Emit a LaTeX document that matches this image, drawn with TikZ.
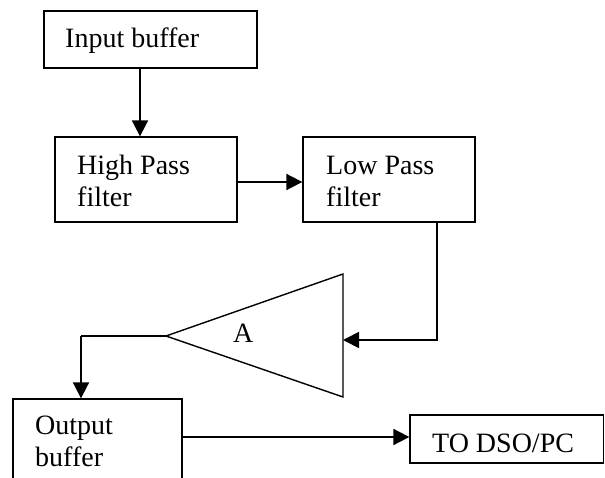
\documentclass[tikz,border=0pt]{standalone}
\usepackage{fontspec}
\setmainfont{Liberation Serif}
\usetikzlibrary{arrows.meta,calc}
\begin{document}
\begin{tikzpicture}[x=1pt,y=-1pt,
  box/.style={draw,line width=1.3pt,rectangle,inner sep=0pt},
  lbl/.style={anchor=base west,inner sep=0pt,font=\fontsize{28}{32}\selectfont,align=left},
  conn/.style={line width=1.8pt,-{Triangle[length=16pt,width=16pt]}},
  plain/.style={line width=1.4pt}]
\useasboundingbox (0,0) rectangle (605,478);
\clip (0,0) rectangle (605,478);
% boxes
\node[box,minimum width=213pt,minimum height=57pt] (in) at (150.5,39.5) {};
\node[box,minimum width=182pt,minimum height=85pt] (hp) at (146,179.5) {};
\node[box,minimum width=172pt,minimum height=85pt] (lp) at (389,179.5) {};
\node[box,minimum width=169pt,minimum height=100pt] (out) at (97.5,449) {};
\node[box,minimum width=193.5pt,minimum height=48pt] (dso) at (506.75,439) {};
% texts (base anchor = last line's baseline)
\node[lbl] (tin) at (65,48) {Input buffer};
\node[lbl] (thp) at (77,207) {High Pass\\filter};
\node[lbl] (tlp) at (326,207) {Low Pass\\filter};
\node[lbl] (tout) at (35,466) {Output\\buffer};
\node[lbl] (tdso) at (432,452) {TO DSO/PC};
% amplifier
\coordinate (apex) at (166,336);
\coordinate (atop) at (343,274);
\coordinate (abot) at (343,397);
\draw[plain,line join=miter] (apex) -- (atop) -- (abot) -- cycle;
\node[lbl] (ta) at (233,342) {A};
% connectors
\draw[conn] ([xshift=-10.5pt]in.south) -- ([xshift=-6pt]hp.north);
\coordinate (hpout) at ([yshift=-2.5pt,xshift=-2pt]hp.east);
\draw[conn] (hpout) -- (hpout -| lp.west);
\coordinate (lpout) at ([xshift=48pt]lp.south);
\coordinate (ain) at (343,340);
\draw[conn] (lpout) |- (ain);
\coordinate (bend) at (81,336);
\draw[plain] (apex) -- (bend);
\draw[conn] (bend) -- ([xshift=-16.5pt]out.north);
\coordinate (outo) at ([yshift=12pt]out.east);
\draw[conn] (outo) -- (outo -| dso.west);
\end{tikzpicture}
\end{document}
